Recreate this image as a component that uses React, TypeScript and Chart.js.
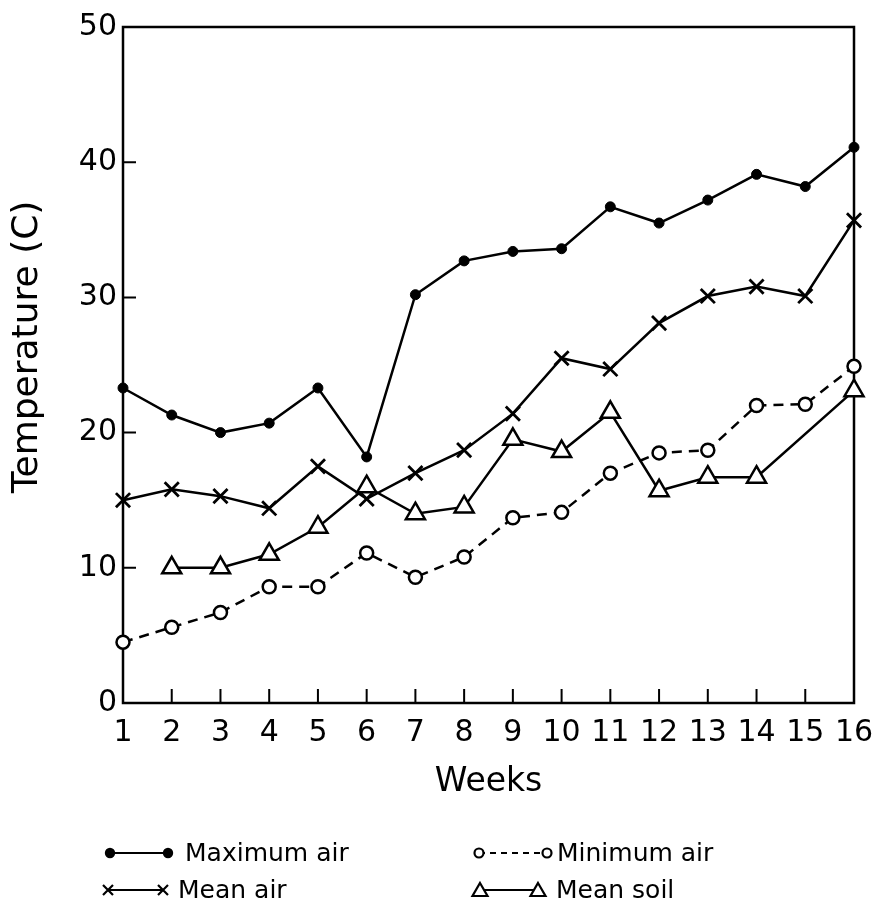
import React, { useEffect, useRef } from "react";
import { Chart, registerables } from "chart.js";

Chart.register(...registerables);

const weeks = [1, 2, 3, 4, 5, 6, 7, 8, 9, 10, 11, 12, 13, 14, 15, 16];
const maximumAir = [23.3, 21.3, 20.0, 20.7, 23.3, 18.2, 30.2, 32.7, 33.4, 33.6, 36.7, 35.5, 37.2, 39.1, 38.2, 41.1];
const minimumAir = [4.5, 5.6, 6.7, 8.6, 8.6, 11.1, 9.3, 10.8, 13.7, 14.1, 17.0, 18.5, 18.7, 22.0, 22.1, 24.9];
const meanAir = [15.0, 15.8, 15.3, 14.4, 17.5, 15.1, 17.0, 18.7, 21.4, 25.5, 24.7, 28.1, 30.1, 30.8, 30.1, 35.7];
const meanSoil: (number | null)[] = [null, 10.0, 10.0, 11.0, 13.0, 16.0, 14.0, 14.5, 19.5, 18.6, 21.5, 15.7, 16.7, 16.7, null, 23.1];
const yTickValues = [10, 20, 30, 40];
const xTitle = "Weeks";
const yTitle = "Temperature (C)";
const legendLabels = ["Maximum air", "Minimum air", "Mean air", "Mean soil"];

const FONT = "'DejaVu Sans', sans-serif";

const toPoints = (vals: (number | null)[]) => weeks.map((w, i) => ({ x: w, y: vals[i] }));

function drawMarker(ctx: CanvasRenderingContext2D, kind: string, x: number, y: number) {
  ctx.save();
  ctx.strokeStyle = "#000";
  ctx.fillStyle = "#000";
  ctx.lineWidth = 2.2;
  ctx.setLineDash([]);
  ctx.beginPath();
  if (kind === "dot") {
    ctx.arc(x, y, 5.2, 0, Math.PI * 2);
    ctx.fill();
  } else if (kind === "ring") {
    ctx.arc(x, y, 4.5, 0, Math.PI * 2);
    ctx.fillStyle = "#fff";
    ctx.fill();
    ctx.stroke();
  } else if (kind === "cross") {
    const r = 5;
    ctx.moveTo(x - r, y - r);
    ctx.lineTo(x + r, y + r);
    ctx.moveTo(x + r, y - r);
    ctx.lineTo(x - r, y + r);
    ctx.stroke();
  } else if (kind === "tri") {
    ctx.moveTo(x, y - 7);
    ctx.lineTo(x + 7.5, y + 6);
    ctx.lineTo(x - 7.5, y + 6);
    ctx.closePath();
    ctx.fillStyle = "#fff";
    ctx.fill();
    ctx.stroke();
  }
  ctx.restore();
}

const framePlugin = {
  id: "frameTicks",
  beforeDatasetsDraw(chart: any) {
    const { ctx, chartArea } = chart;
    const xs = chart.scales.x;
    const ys = chart.scales.y;
    ctx.save();
    ctx.strokeStyle = "#000";
    ctx.lineWidth = 2.5;
    ctx.strokeRect(chartArea.left, chartArea.top, chartArea.right - chartArea.left, chartArea.bottom - chartArea.top);
    ctx.lineWidth = 2;
    ctx.beginPath();
    yTickValues.forEach((v) => {
      const py = ys.getPixelForValue(v);
      ctx.moveTo(chartArea.left, py);
      ctx.lineTo(chartArea.left + 13, py);
    });
    weeks.slice(1, -1).forEach((w) => {
      const px = xs.getPixelForValue(w);
      ctx.moveTo(px, chartArea.bottom);
      ctx.lineTo(px, chartArea.bottom - 14);
    });
    ctx.stroke();
    ctx.restore();
  },
  afterDraw(chart: any) {
    const { ctx } = chart;
    ctx.save();
    // y axis title
    ctx.fillStyle = "#000";
    ctx.font = `36px ${FONT}`;
    ctx.textAlign = "center";
    ctx.textBaseline = "middle";
    ctx.translate(28, 347);
    ctx.rotate(-Math.PI / 2);
    ctx.fillText(yTitle, 0, 0);
    ctx.restore();

    // legend
    ctx.save();
    ctx.font = `25px ${FONT}`;
    ctx.fillStyle = "#000";
    ctx.textAlign = "left";
    ctx.textBaseline = "middle";
    const rows = [
      { label: legendLabels[0], kind: "dot", x1: 110, x2: 168, tx: 185, y: 853, dash: [] as number[] },
      { label: legendLabels[1], kind: "ring", x1: 479, x2: 547, tx: 557, y: 853, dash: [6, 5] },
      { label: legendLabels[2], kind: "cross", x1: 108, x2: 163, tx: 178, y: 890, dash: [] as number[] },
      { label: legendLabels[3], kind: "tri", x1: 480, x2: 538, tx: 556, y: 890, dash: [] as number[] },
    ];
    rows.forEach((r) => {
      ctx.save();
      ctx.strokeStyle = "#000";
      ctx.lineWidth = 2;
      ctx.setLineDash(r.dash);
      ctx.beginPath();
      ctx.moveTo(r.x1, r.y);
      ctx.lineTo(r.x2, r.y);
      ctx.stroke();
      ctx.restore();
      drawMarker(ctx, r.kind, r.x1, r.y);
      drawMarker(ctx, r.kind, r.x2, r.y);
      ctx.fillText(r.label, r.tx, r.y + 1);
    });
    ctx.restore();
  },
};

export default function App() {
  const ref = useRef<HTMLCanvasElement | null>(null);
  useEffect(() => {
    if (!ref.current) return;
    const chart = new Chart(ref.current, {
      type: "line",
      data: {
        datasets: [
          {
            label: legendLabels[0],
            data: toPoints(maximumAir) as any,
            borderColor: "#000",
            borderWidth: 2.5,
            pointStyle: "circle",
            pointRadius: 5,
            pointBackgroundColor: "#000",
            pointBorderColor: "#000",
            pointBorderWidth: 1,
            tension: 0,
            clip: false as any,
          },
          {
            label: legendLabels[1],
            data: toPoints(minimumAir) as any,
            borderColor: "#000",
            borderWidth: 2.5,
            borderDash: [10, 7],
            pointStyle: "circle",
            pointRadius: 6.5,
            pointBackgroundColor: "#fff",
            pointBorderColor: "#000",
            pointBorderWidth: 2.5,
            tension: 0,
            clip: false as any,
          },
          {
            label: legendLabels[2],
            data: toPoints(meanAir) as any,
            borderColor: "#000",
            borderWidth: 2.5,
            pointStyle: "crossRot",
            pointRadius: 10,
            pointBorderColor: "#000",
            pointBorderWidth: 2.8,
            tension: 0,
            clip: false as any,
          },
          {
            label: legendLabels[3],
            data: toPoints(meanSoil) as any,
            borderColor: "#000",
            borderWidth: 2.5,
            pointStyle: "triangle",
            pointRadius: 11,
            pointBackgroundColor: "#fff",
            pointBorderColor: "#000",
            pointBorderWidth: 2.5,
            tension: 0,
            spanGaps: true,
            clip: false as any,
          },
        ],
      },
      options: {
        animation: false,
        responsive: false,
        events: [],
        layout: { padding: { left: 0, right: 18, top: 27, bottom: 112 } },
        plugins: {
          legend: { display: false },
          tooltip: { enabled: false },
          title: { display: false },
        },
        scales: {
          x: {
            type: "linear",
            min: 1,
            max: 16,
            grid: { display: false, drawTicks: false },
            border: { display: false },
            ticks: {
              stepSize: 1,
              autoSkip: false,
              maxRotation: 0,
              padding: 12,
              color: "#000",
              font: { family: FONT, size: 30 },
            },
            title: {
              display: true,
              text: xTitle,
              color: "#000",
              padding: 0,
              font: { family: FONT, size: 33 },
            },
            afterFit: (s: any) => {
              s.height = 99;
              s.paddingLeft = 0;
              s.paddingRight = 0;
            },
          },
          y: {
            type: "linear",
            min: 0,
            max: 50,
            grid: { display: false, drawTicks: false },
            border: { display: false },
            ticks: {
              stepSize: 10,
              padding: 6,
              color: "#000",
              font: { family: FONT, size: 30 },
            },
            title: { display: false, text: yTitle },
            afterFit: (s: any) => {
              s.width = 123;
              s.paddingTop = 0;
              s.paddingBottom = 0;
            },
          },
        },
      },
      plugins: [framePlugin],
    });
    return () => chart.destroy();
  }, []);
  return (
    <div style={{ position: "fixed", left: 0, top: 0, width: 872, height: 914, background: "#fff" }}>
      <canvas ref={ref} width={872} height={914} style={{ display: "block" }} />
    </div>
  );
}
